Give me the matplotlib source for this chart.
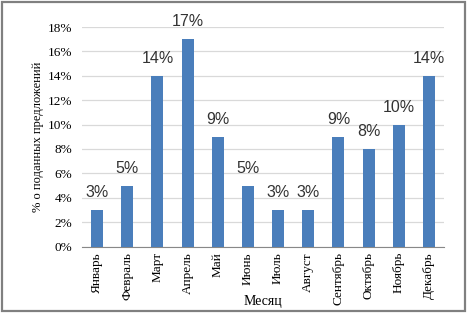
import matplotlib.pyplot as plt
from matplotlib.patches import Rectangle

# monthly share of submitted proposals, %
months = ["Январь", "Февраль", "Март", "Апрель", "Май", "Июнь",
          "Июль", "Август", "Сентябрь", "Октябрь", "Ноябрь", "Декабрь"]
shares = [3, 5, 14, 17, 9, 5, 3, 3, 9, 8, 10, 14]
y_ticks = [0, 2, 4, 6, 8, 10, 12, 14, 16, 18]

serif = "Liberation Serif"

fig = plt.figure(figsize=(4.68, 3.13), dpi=100)
ax = fig.add_axes([82 / 468, 1 - 246.5 / 313, 362 / 468, 219.5 / 313])

x = list(range(len(months)))
ax.bar(x, shares, width=0.4, color="#4a7ebb", zorder=3)

# value labels above bars
for xi, v in zip(x, shares):
    ax.annotate(f"{v}%", (xi, v), xytext=(0, 7), textcoords="offset points",
                ha="center", va="bottom", fontsize=11.5,
                family="Liberation Sans", color="#333333")

ax.set_xlim(-0.5, len(months) - 0.5)
ax.set_ylim(0, 18)
ax.set_yticks(y_ticks)
ax.set_yticklabels([f"{t}%" for t in y_ticks], family=serif, fontsize=9.5)
ax.set_xticks(x)
ax.set_xticklabels(months, rotation=90, family=serif, fontsize=9.5)
ax.tick_params(axis="both", length=0)
ax.tick_params(axis="y", pad=7)
ax.tick_params(axis="x", pad=4)

ax.grid(axis="y", color="#d9d9d9", linewidth=0.9, zorder=0)
for side in ["top", "right", "left"]:
    ax.spines[side].set_visible(False)
ax.spines["bottom"].set_color("#888888")

ax.set_xlabel("Месяц", family=serif, fontsize=10)
ax.set_ylabel("% о поданных предложений", family=serif, fontsize=9)
ax.xaxis.set_label_coords(0.5, -0.222)
ax.yaxis.set_label_coords(-0.105, 0.5)

fig.patches.append(Rectangle((0.004, 0.005), 0.989, 0.99, transform=fig.transFigure,
                             fill=False, edgecolor="#808080", linewidth=1.6))

fig.savefig("out.png", dpi=100)
